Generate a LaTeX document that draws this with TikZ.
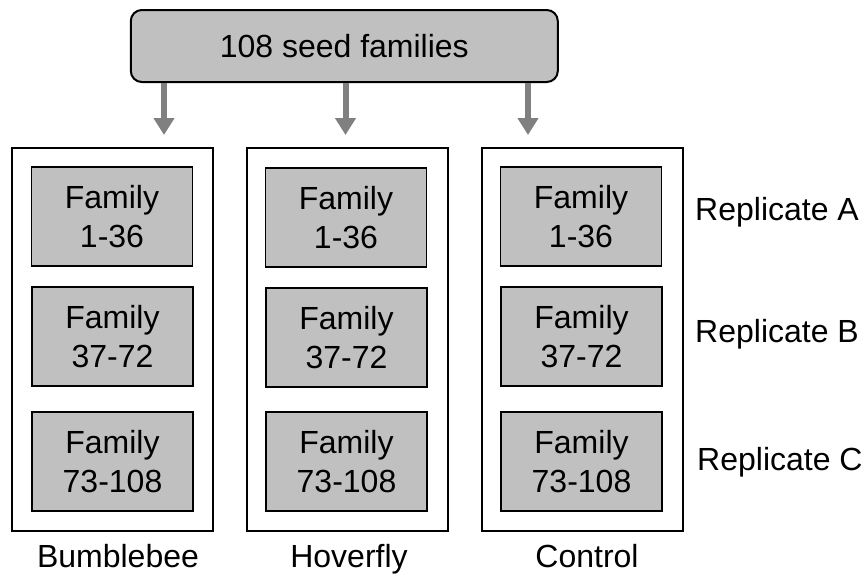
\documentclass[tikz,border=0pt]{standalone}
\usepackage{fontspec}
\setmainfont{Liberation Sans}
\usetikzlibrary{arrows.meta}
\definecolor{boxgray}{HTML}{C0C0C0}
\definecolor{arrowgray}{HTML}{808080}
\begin{document}
\begin{tikzpicture}[x=1pt,y=-1pt,
  every node/.style={font=\fontsize{32}{39}\selectfont, text=black},
  topbox/.style={draw=black, line width=2pt, fill=boxgray, rounded corners=11pt,
    minimum width=427pt, minimum height=72pt, inner sep=0pt},
  outerbox/.style={draw=black, line width=2pt, fill=white,
    minimum width=201pt, minimum height=383pt, inner sep=0pt},
  fambox/.style={draw=black, line width=1.8pt, fill=boxgray,
    minimum width=161pt, minimum height=99pt, align=center, inner sep=0pt},
  feed/.style={draw=arrowgray, line width=6pt, -{Triangle[length=17pt,width=20pt]}},
  replab/.style={anchor=base west, inner sep=0pt},
  grplab/.style={anchor=base, inner sep=0pt}]
\useasboundingbox (0,0) rectangle (864,576);

% top box
\node[topbox] (top) at (344.3,46) {108 seed families};

% arrow tips
\coordinate (t1) at (164,135);
\coordinate (t2) at (345.5,135);
\coordinate (t3) at (528,135);
\draw[feed] (top.south -| t1) -- (t1);
\draw[feed] (top.south -| t2) -- (t2);
\draw[feed] (top.south -| t3) -- (t3);

% outer boxes
\node[outerbox] (bb) at (112.5,339.5) {};
\node[outerbox] (hf) at (347.5,339.5) {};
\node[outerbox] (ct) at (582,339.5) {};

% family boxes
\node[fambox] (bbA) at (112,216.5) {Family\\1-36};
\node[fambox] (bbB) at (112.5,336.5) {Family\\37-72};
\node[fambox] (bbC) at (112.5,461.5) {Family\\73-108};
\node[fambox] (hfA) at (346,217.5) {Family\\1-36};
\node[fambox] (hfB) at (346.5,337.5) {Family\\37-72};
\node[fambox] (hfC) at (346.5,461.5) {Family\\73-108};
\node[fambox] (ctA) at (581,216.5) {Family\\1-36};
\node[fambox] (ctB) at (581.5,336.5) {Family\\37-72};
\node[fambox] (ctC) at (581.5,461.5) {Family\\73-108};

% replicate labels
\node[replab] (repA) at (695,220) {Replicate A};
\node[replab] (repB) at (695,342.7) {Replicate B};
\node[replab] (repC) at (697,470) {Replicate C};

% group labels
\node[grplab] (lbb) at (118,567.5) {Bumblebee};
\node[grplab] (lhf) at (349,567.5) {Hoverfly};
\node[grplab] (lct) at (587,567) {Control};
\end{tikzpicture}
\end{document}
